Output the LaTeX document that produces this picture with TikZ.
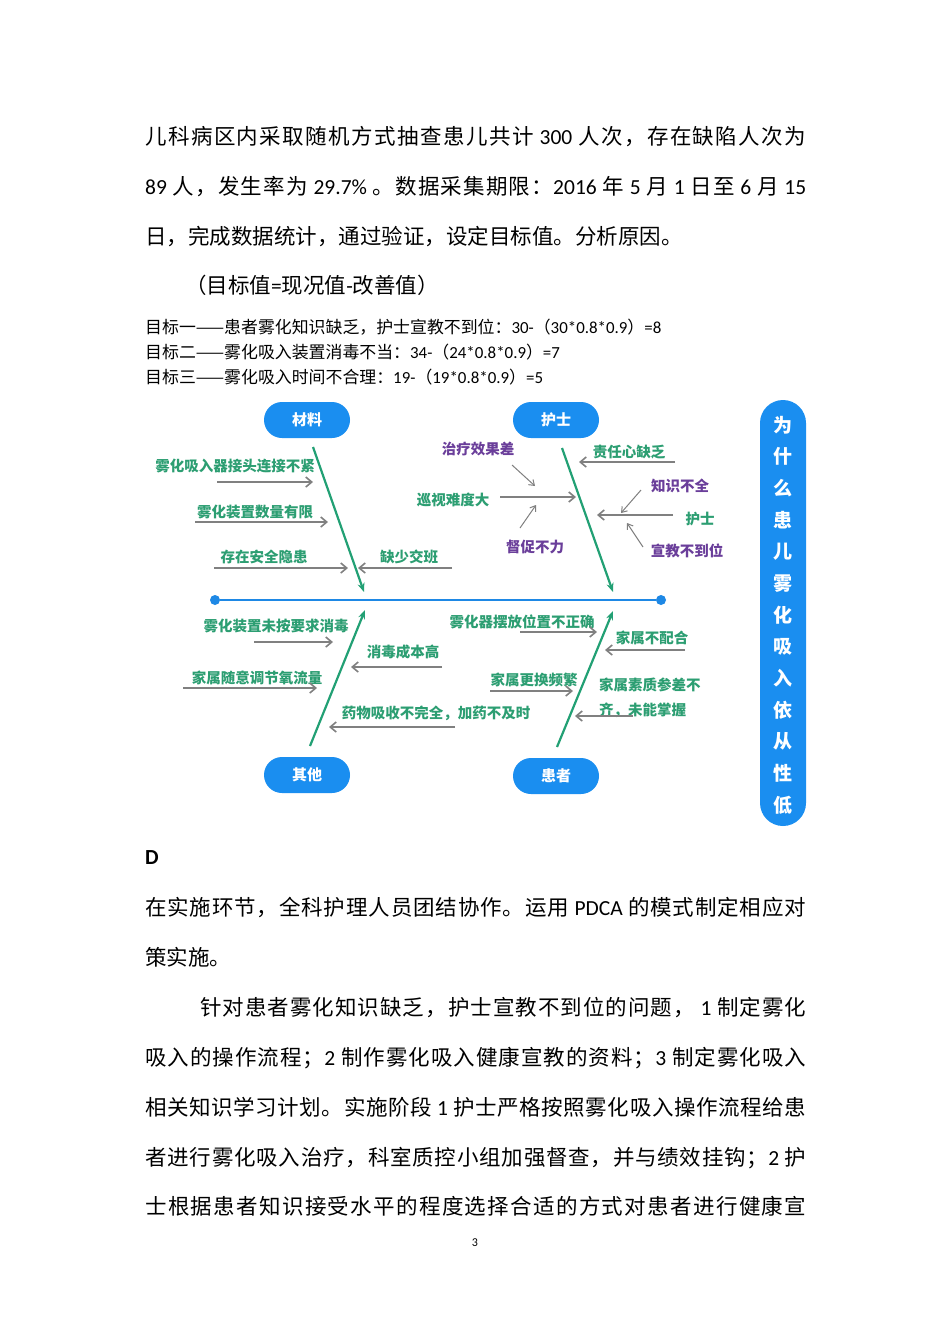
\documentclass[tikz,border=0pt]{standalone}
\usepackage{fontspec}
\setmainfont{Noto Sans CJK SC}
\newfontfamily\latf{Carlito}
\usetikzlibrary{arrows.meta}
\definecolor{pillblue}{RGB}{26,142,240}
\definecolor{spineblue}{RGB}{30,136,229}
\definecolor{tgreen}{RGB}{44,158,114}
\definecolor{bgreen}{RGB}{34,160,116}
\definecolor{tpurple}{RGB}{106,62,154}
\definecolor{arrgray}{RGB}{128,128,128}
\newcommand\ltn[1]{{\latf #1}}
% inter-character glue for justified lines
\XeTeXinterchartokenstate=1
\newcount\mycc
\mycc="4E00 \loop \XeTeXcharclass\mycc=7 \advance\mycc 1 \ifnum\mycc<"A000 \repeat
\mycc="3000 \loop \XeTeXcharclass\mycc=7 \advance\mycc 1 \ifnum\mycc<"3040 \repeat
\mycc="FF00 \loop \XeTeXcharclass\mycc=7 \advance\mycc 1 \ifnum\mycc<"FFF0 \repeat
\XeTeXinterchartoks 7 7 = {\hskip 0pt plus 3pt minus 1pt}
\newcommand\jline[2]{\makebox[#1][s]{#2}}
\tikzset{
  pill/.style={fill=pillblue, rounded corners=18pt, minimum width=86pt, minimum height=36pt,
    text=white, font=\fontsize{15}{15}\selectfont\bfseries, inner sep=0pt},
  gl/.style={text=tgreen, font=\fontsize{14.5}{14.5}\selectfont\bfseries, inner sep=0pt},
  pl/.style={text=tpurple, font=\fontsize{14.5}{14.5}\selectfont\bfseries, inner sep=0pt},
  garrow/.style={draw=arrgray, line width=1.6pt, -{Straight Barb[length=6pt,width=10pt]}},
  sarrow/.style={draw=arrgray, line width=1pt, -{Straight Barb[length=5pt,width=7pt]}},
  bone/.style={draw=bgreen, line width=2.2pt, -{Stealth[length=9pt,width=7pt]}},
  body/.style={anchor=base west, inner sep=0pt, font=\fontsize{21.5}{21.5}\selectfont},
  goal/.style={anchor=base west, inner sep=0pt, font=\fontsize{16.9}{16.9}\selectfont},
  dot/.style={circle, fill=spineblue, minimum size=10pt, inner sep=0pt},
}
\begin{document}
\begin{tikzpicture}[x=1pt,y=-1pt]
\fill[white] (0,0) rectangle (950,1344);
\useasboundingbox (0,0) rectangle (950,1344);

% top paragraph
\node[body] (t1) at (145,144) {\jline{661pt}{儿科病区内采取随机方式抽查患儿共计 \ltn{300} 人次，存在缺陷人次为}};
\node[body] (t2) at (145,194) {\jline{661pt}{\ltn{89} 人，发生率为 \ltn{29.7\%} 。数据采集期限：\ltn{2016} 年 \ltn{5} 月 \ltn{1} 日至 \ltn{6} 月 \ltn{15}}};
\node[body] (t3) at (145,244) {日，完成数据统计，通过验证，设定目标值。分析原因。};
\node[body] (t4) at (185,293) {（目标值\ltn{=}现况值\ltn{-}改善值）};

% goals
\node[goal] (g1) at (145,333) {目标一——患者雾化知识缺乏，护士宣教不到位：\ltn{30-}（\ltn{30*0.8*0.9}）\ltn{=8}};
\node[goal] (g2) at (145,358) {目标二——雾化吸入装置消毒不当：\ltn{34-}（\ltn{24*0.8*0.9}）\ltn{=7}};
\node[goal] (g3) at (145,383) {目标三——雾化吸入时间不合理：\ltn{19-}（\ltn{19*0.8*0.9}）\ltn{=5}};

% pills
\node[pill] (cl) at (307,420) {材料};
\node[pill] (hs) at (556,420) {护士};
\node[pill] (qt) at (307,775) {其他};
\node[pill] (hz) at (556,776) {患者};
\node[fill=pillblue, rounded corners=23pt, minimum width=46pt, minimum height=426pt, inner sep=0pt] (q) at (783,613) {};
\node[text=white, font=\fontsize{19}{31.67}\selectfont\bfseries, align=center, inner sep=0pt] (qtext) at (783,615)
  {为\\什\\么\\患\\儿\\雾\\化\\吸\\入\\依\\从\\性\\低};

% spine
\node[dot] (sL) at (215,600) {};
\node[dot] (sR) at (661,600) {};
\draw[spineblue, line width=2.4pt] (sL) -- (sR);

% bones
\coordinate (b1s) at (313,447); \coordinate (b1e) at (364,592);
\coordinate (b2s) at (562,448); \coordinate (b2e) at (613,592);
\coordinate (b3s) at (310,746); \coordinate (b3e) at (365,610);
\coordinate (b4s) at (557,747); \coordinate (b4e) at (613,611);
\draw[bone] (b1s) -- (b1e);
\draw[bone] (b2s) -- (b2e);
\draw[bone] (b3s) -- (b3e);
\draw[bone] (b4s) -- (b4e);

% material labels and arrows
\node[gl] (m1) at (235,466) {雾化吸入器接头连接不紧};
\node[gl] (m2) at (255,512) {雾化装置数量有限};
\node[gl] (m3) at (264,557) {存在安全隐患};
\node[gl] (m4) at (409,557) {缺少交班};
\coordinate (m1s) at (217,482); \coordinate (m1e) at (313,482);
\coordinate (m2s) at (195,522); \coordinate (m2e) at (328,522);
\coordinate (m3s) at (214,568); \coordinate (m3e) at (348,568);
\coordinate (m4s) at (452,568); \coordinate (m4e) at (358,568);
\draw[garrow] (m1s) -- (m1e);
\draw[garrow] (m2s) -- (m2e);
\draw[garrow] (m3s) -- (m3e);
\draw[garrow] (m4s) -- (m4e);

% nurse labels and arrows
\node[pl] (n1) at (478,449) {治疗效果差};
\node[gl] (n2) at (453,500) {巡视难度大};
\node[pl] (n3) at (535,547) {督促不力};
\node[gl] (n4) at (629,452) {责任心缺乏};
\node[pl] (n5) at (680,486) {知识不全};
\node[gl] (n6) at (700,519) {护士};
\node[pl] (n7) at (687,551) {宣教不到位};
\coordinate (n1s) at (512,465); \coordinate (n1e) at (535,486);
\coordinate (n2s) at (500,497); \coordinate (n2e) at (576,497);
\coordinate (n3s) at (520,528); \coordinate (n3e) at (536,505);
\coordinate (n4s) at (675,462); \coordinate (n4e) at (579,462);
\coordinate (n5s) at (641,490); \coordinate (n5e) at (621,513);
\coordinate (n6s) at (673,515); \coordinate (n6e) at (597,515);
\coordinate (n7s) at (643,547); \coordinate (n7e) at (627,523);
\draw[sarrow] (n1s) -- (n1e);
\draw[garrow] (n2s) -- (n2e);
\draw[sarrow] (n3s) -- (n3e);
\draw[garrow] (n4s) -- (n4e);
\draw[sarrow] (n5s) -- (n5e);
\draw[garrow] (n6s) -- (n6e);
\draw[sarrow] (n7s) -- (n7e);

% other labels and arrows
\node[gl] (o1) at (276,626) {雾化装置未按要求消毒};
\node[gl] (o2) at (403,652) {消毒成本高};
\node[gl] (o3) at (257,678) {家属随意调节氧流量};
\node[gl] (o4) at (436,713) {药物吸收不完全，加药不及时};
\coordinate (o1s) at (254,642); \coordinate (o1e) at (333,642);
\coordinate (o2s) at (442,667); \coordinate (o2e) at (351,667);
\coordinate (o3s) at (183,688); \coordinate (o3e) at (317,688);
\coordinate (o4s) at (455,727); \coordinate (o4e) at (329,727);
\draw[garrow] (o1s) -- (o1e);
\draw[garrow] (o2s) -- (o2e);
\draw[garrow] (o3s) -- (o3e);
\draw[garrow] (o4s) -- (o4e);

% patient labels and arrows
\node[gl] (p1) at (522,622) {雾化器摆放位置不正确};
\node[gl] (p2) at (652,638) {家属不配合};
\node[gl] (p3) at (534,680) {家属更换频繁};
\node[gl, anchor=west, align=left, font=\fontsize{14.5}{25}\selectfont\bfseries] (p4) at (599,698) {家属素质参差不\\齐，未能掌握};
\coordinate (p1s) at (520,632); \coordinate (p1e) at (597,632);
\coordinate (p2s) at (685,650); \coordinate (p2e) at (605,650);
\coordinate (p3s) at (490,691); \coordinate (p3e) at (573,691);
\coordinate (p4s) at (633,716); \coordinate (p4e) at (575,716);
\draw[garrow] (p1s) -- (p1e);
\draw[garrow] (p2s) -- (p2e);
\draw[garrow] (p3s) -- (p3e);
\draw[garrow] (p4s) -- (p4e);

% bottom text
\node[body, font=\fontsize{21.5}{21.5}\selectfont\latf\bfseries] (d) at (145,864) {D};
\node[body] (u1) at (145,915) {\jline{661pt}{在实施环节，全科护理人员团结协作。运用 \ltn{PDCA} 的模式制定相应对}};
\node[body] (u2) at (145,965) {策实施。};
\node[body] (u3) at (200,1015) {\jline{606pt}{针对患者雾化知识缺乏，护士宣教不到位的问题， \ltn{1} 制定雾化}};
\node[body] (u4) at (145,1065) {\jline{661pt}{吸入的操作流程；\ltn{2} 制作雾化吸入健康宣教的资料；\ltn{3} 制定雾化吸入}};
\node[body] (u5) at (145,1115) {\jline{661pt}{相关知识学习计划。实施阶段 \ltn{1} 护士严格按照雾化吸入操作流程给患}};
\node[body] (u6) at (145,1165) {\jline{661pt}{者进行雾化吸入治疗，科室质控小组加强督查，并与绩效挂钩；\ltn{2} 护}};
\node[body] (u7) at (145,1214) {\jline{661pt}{士根据患者知识接受水平的程度选择合适的方式对患者进行健康宣}};
\node[anchor=base, inner sep=0pt, font=\fontsize{12}{12}\selectfont\latf] (pg) at (475,1246) {3};
\end{tikzpicture}
\end{document}
